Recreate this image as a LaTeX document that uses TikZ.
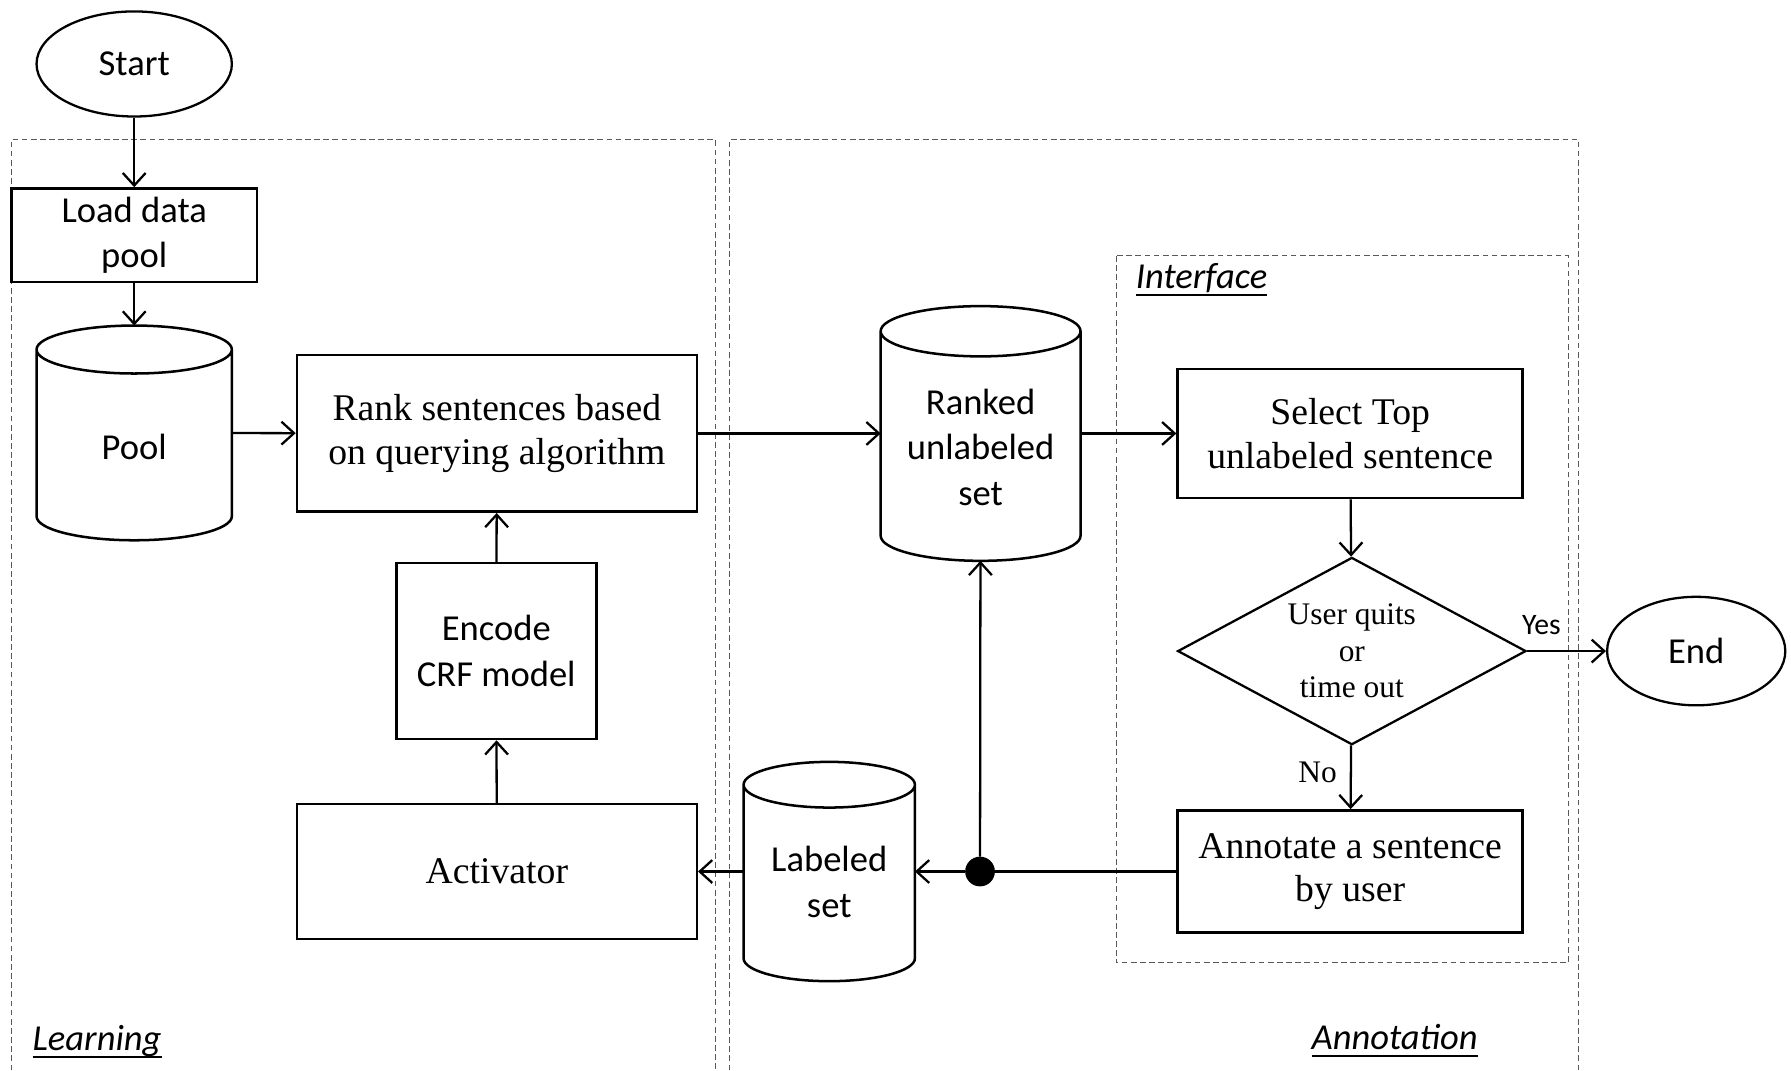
\documentclass[tikz,border=0pt]{standalone}
\usepackage{fontspec}
\setmainfont{Liberation Serif}
\newfontfamily\calibri{Carlito}
\usetikzlibrary{arrows.meta,shapes.geometric,positioning,calc}
\newcommand{\sansbig}{\calibri\fontsize{32}{40}\selectfont}
\newcommand{\serifbig}{\fontsize{33}{38}\selectfont}
\newcommand{\serifmid}{\fontsize{27.5}{32}\selectfont}
\newcommand{\sansmid}{\calibri\fontsize{26}{30}\selectfont}
% italic label with a heavy underline
\newsavebox{\lblbox}
\newcommand{\regionlbl}[1]{\sbox{\lblbox}{\calibri\fontsize{32}{38}\selectfont\itshape #1}%
  \rlap{\rule[-7pt]{\wd\lblbox}{2pt}}\usebox{\lblbox}}
% drum outline round a node: #1 node, #2 half height of the end caps
\newcommand{\drum}[2]{%
  \draw[line width=2.2pt] let \p1=(#1.north west), \p2=(#1.south east),
      \n1={(\x2-\x1)/2} in
    (\x1,\y1-#2pt) -- (\x1,\y2+#2pt)
    arc[start angle=180, end angle=360, x radius=\n1, y radius=#2pt]
    -- (\x2,\y1-#2pt)
    arc[start angle=0, end angle=360, x radius=\n1, y radius=#2pt];}

\begin{document}
\begin{tikzpicture}[x=1pt,y=-1pt,>={Straight Barb[length=11pt,width=20pt]},
      line width=2pt,
      proc/.style={draw, line width=2.2pt, align=center, inner sep=0pt},
      term/.style={draw, ellipse, inner sep=0pt, font=\sansbig},
      db/.style={inner sep=0pt, outer sep=0pt},
      region/.style={draw=black!65, line width=0.8pt, dash pattern=on 5pt off 3pt},
      flow/.style={->}]
  \useasboundingbox (0,0) rectangle (1568,937);

  % dashed frames
  \draw[region] (10,937) -- (10,122) -- (626,122) -- (626,937);
  \draw[region] (639,937) -- (639,122) -- (1382,122) -- (1382,937);
  \draw[region] (977,224) rectangle (1373,843);
  \node (learnlbl) at (85,912) {\regionlbl{Learning}};
  \node (annotlbl) at (1221,911) {\regionlbl{Annotation}};
  \node (ifacelbl) at (1052,245) {\regionlbl{Interface}};

  % learning side
  \node[term, minimum width=171, minimum height=92] (start) at (117.5,56) {Start};
  \node[proc, font=\sansbig, minimum width=215, minimum height=82] (load) at (117.5,206) {Load data\\pool};
  \node[db, minimum width=171, minimum height=188,
    label={[font=\sansbig, yshift=-12pt]center:Pool}] (pool) at (117.5,379) {};
  \drum{pool}{21}
  \node[proc, font=\serifbig, minimum width=350, minimum height=137] (rank) at (435,379.5) {Rank sentences based\\on querying algorithm};
  \node[proc, font=\sansbig, minimum width=175, minimum height=154] (encode) at (434.5,570) {Encode\\CRF model};
  \node[proc, font=\serifbig, minimum width=350, minimum height=118] (activ) at (435,763) {Activator};

  % annotation side
  \node[db, minimum width=175, minimum height=223,
    label={[font=\sansbig, align=center, yshift=-12pt]center:Ranked\\unlabeled\\set}] (ranked) at (858.5,379.5) {};
  \drum{ranked}{22}
  \node[db, minimum width=150, minimum height=192,
    label={[font=\sansbig, align=center, yshift=-9pt]center:Labeled\\set}] (labeled) at (726,763) {};
  \drum{labeled}{20}
  \node[proc, font=\serifbig, minimum width=302, minimum height=113] (select) at (1182,379.5) {Select Top\\unlabeled sentence};
  \node[draw, diamond, aspect=1.86, inner sep=0pt, minimum width=305, minimum height=164,
    align=center, font=\serifmid] (quit) at (1183.5,570) {User quits\\or\\time out};
  \node[proc, font=\serifbig, minimum width=302, minimum height=107] (annot) at (1182,763) {Annotate a sentence\\by user};
  \node[term, minimum width=156, minimum height=95] (end) at (1485,570) {End};
  \node[circle, fill=black, draw, line width=1pt, inner sep=0pt, minimum size=25] (dot) at (858,763) {};

  % connectors
  \draw[flow] (start) -- (load);
  \draw[flow] (load) -- (pool);
  \draw[flow] (pool) -- (rank);
  \draw[flow] (rank) -- (ranked);
  \draw[flow] (ranked) -- (select);
  \draw[flow] (select) -- (quit);
  \draw[flow] (quit) -- node[above=10pt, pos=.18, font=\sansmid] {Yes} (end);
  \draw[flow] (quit) -- node[left=8pt, pos=.42, font=\serifmid] {No} (annot);
  \draw (annot) -- (dot);
  \draw[flow] (dot) -- (labeled);
  \draw[flow] (dot) -- (ranked);
  \draw[flow] (labeled) -- (activ);
  \draw[flow] (activ) -- (encode);
  \draw[flow] (encode) -- (rank);
\end{tikzpicture}
\end{document}
